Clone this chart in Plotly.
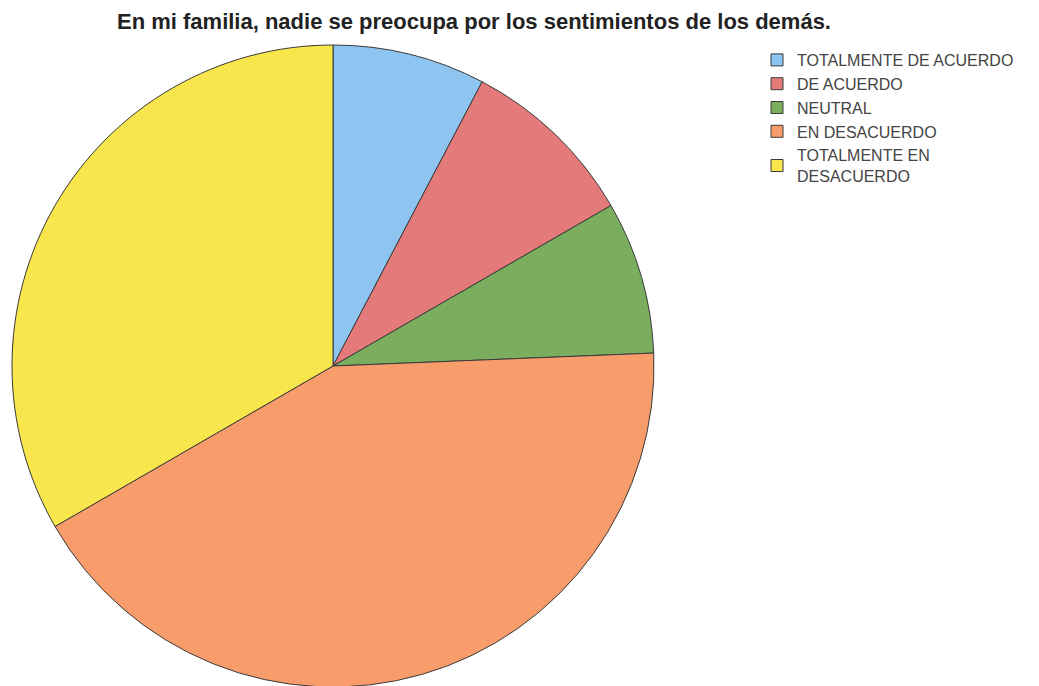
import plotly.graph_objects as go

# respuestas (conteo aproximado)
categorias = ["TOTALMENTE DE ACUERDO", "DE ACUERDO", "NEUTRAL", "EN DESACUERDO",
              "TOTALMENTE EN<br>DESACUERDO"]
conteos = [6, 7, 6, 33, 26]
colores = ["#8EC4F0", "#E57A7A", "#7AAE5E", "#F99C6C", "#F8E64C"]

W, H = 1039, 686

fig = go.Figure(go.Pie(
    labels=categorias,
    values=conteos,
    sort=False,
    direction="clockwise",
    rotation=0,
    textinfo="none",
    hoverinfo="label+value+percent",
    marker=dict(colors=colores, line=dict(color="#3a3a3a", width=1)),
    domain=dict(x=[4 / W, 646 / W], y=[1 - 679 / H, 1 - 37 / H]),
))

fig.update_layout(
    width=W, height=H,
    margin=dict(l=0, r=0, t=0, b=0),
    paper_bgcolor="white",
    title=dict(text="<b>En mi familia, nadie se preocupa por los sentimientos de los demás.</b>",
               x=466 / W, xanchor="center", y=1 - 13 / H, yanchor="middle",
               font=dict(family="Liberation Sans Narrow, Arial Narrow, Liberation Sans", size=22, color="#222")),
    legend=dict(x=749 / W, y=1 - 35 / H, xanchor="left", yanchor="top",
                font=dict(family="Liberation Sans, Arial", size=16, color="#444"),
                itemwidth=30, tracegroupgap=0, bgcolor="rgba(0,0,0,0)"),
)

fig.write_html("out.html")
